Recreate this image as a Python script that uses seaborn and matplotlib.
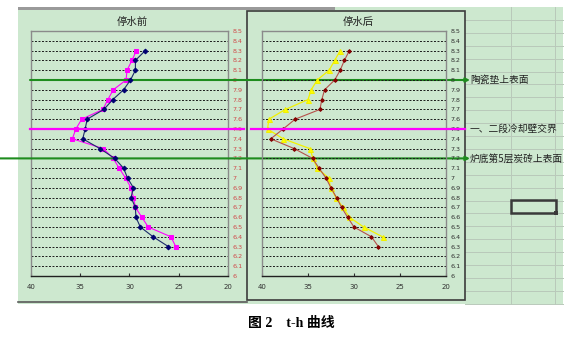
import matplotlib
matplotlib.use("Agg")
import matplotlib.pyplot as plt
import pandas as pd
import seaborn as sns
from matplotlib.patches import Rectangle
from matplotlib.lines import Line2D
from matplotlib import transforms

# ---- data -------------------------------------------------------------
heights = [8.3, 8.2, 8.1, 8.0, 7.9, 7.8, 7.7, 7.6, 7.5, 7.4, 7.3,
           7.2, 7.1, 7.0, 6.9, 6.8, 6.7, 6.6, 6.5, 6.4, 6.3]

# 停水前 (before water stop)
before_navy = [28.4, 29.4, 29.4, 29.9, 30.6, 31.7, 32.6, 34.3, 34.5, 34.75, 33.0,
               31.5, 30.6, 30.2, 29.6, 29.85, 29.4, 29.35, 28.9, 27.6, 26.05]
before_pink = [29.3, 29.75, 30.25, 30.35, 31.65, 32.2, 32.7, 34.85, 35.45, 35.8, 32.65,
               31.65, 31.05, 30.4, 29.85, 29.6, 29.4, 28.75, 28.1, 25.8, 25.3]

# 停水后 (after water stop)
after_red = [30.5, 31.05, 31.5, 32.1, 33.2, 33.5, 33.7, 36.4, 37.7, 39.05, 36.5,
             34.5, 33.8, 33.05, 32.5, 31.9, 31.35, 30.7, 30.0, 28.1, 27.35]
after_yellow = [31.5, 32.1, 32.7, 34.0, 34.65, 35.0, 37.45, 39.25, 39.4, 37.7, 34.8,
                34.45, 34.0, 32.75, 32.55, 31.95, 31.2, 30.5, 28.95, 26.9, None]

titles = ["停水前", "停水后"]
x_ticks = [40, 35, 30, 25, 20]
y_ticks = [6.0, 6.1, 6.2, 6.3, 6.4, 6.5, 6.6, 6.7, 6.8, 6.9, 7.0, 7.1, 7.2,
           7.3, 7.4, 7.5, 7.6, 7.7, 7.8, 7.9, 8.0, 8.1, 8.2, 8.3, 8.4, 8.5]
y_tick_labels = ["6", "6.1", "6.2", "6.3", "6.4", "6.5", "6.6", "6.7", "6.8", "6.9",
                 "7", "7.1", "7.2", "7.3", "7.4", "7.5", "7.6", "7.7", "7.8", "7.9",
                 "8", "8.1", "8.2", "8.3", "8.4", "8.5"]

levels = [8.0, 7.5, 7.2]
level_labels = ["陶瓷垫上表面", "一、二段冷却壁交界", "炉底第5层炭砖上表面"]
caption = "图 2    t-h 曲线"

# ---- figure -----------------------------------------------------------
W, H = 578, 338
fig = plt.figure(figsize=(W / 100, H / 100), dpi=100)
fig.patch.set_facecolor("white")
CJK = ["Noto Sans CJK SC", "DejaVu Sans"]
SHEET = "#cde8cf"


def fx(x):
    return x / W


def fy(y):
    return 1 - y / H


def rect(x0, y0, x1, y1, **kw):
    r = Rectangle((fx(x0), fy(y1)), (x1 - x0) / W, (y1 - y0) / H,
                  transform=fig.transFigure, **kw)
    fig.add_artist(r)
    return r


def hline_px(x0, x1, y, **kw):
    fig.add_artist(Line2D([fx(x0), fx(x1)], [fy(y), fy(y)],
                          transform=fig.transFigure, **kw))


def vline_px(x, y0, y1, **kw):
    fig.add_artist(Line2D([fx(x), fx(x)], [fy(y0), fy(y1)],
                          transform=fig.transFigure, **kw))


# worksheet background
rect(18, 7, 563, 304, facecolor=SHEET, edgecolor="none", zorder=0)
rect(18, 7, 335, 9.5, facecolor="#9a9a9a", edgecolor="none", zorder=0.5)

# worksheet cell grid on the right
y = 7 + 12.9
while y < 304:
    hline_px(465, 563, y, color="#b9c9ba", lw=0.7, zorder=0.4)
    y += 12.9
for xv in (511, 555):
    vline_px(xv, 7, 304, color="#b9c9ba", lw=0.7, zorder=0.4)

# chart frames
rect(247, 11, 465, 300, facecolor="none", edgecolor="#3c3c3c", lw=1.2, zorder=1)
hline_px(18, 247, 302, color="#5a5a5a", lw=1.2, zorder=1)

# selected cell
rect(511, 200, 556, 213, facecolor="none", edgecolor="#3a3a3a", lw=1.8, zorder=1)
rect(554, 211, 558, 215, facecolor="#3a3a3a", edgecolor="none", zorder=1)


def make_axes(x0, y0, x1, y1):
    ax = fig.add_axes([fx(x0), fy(y1), (x1 - x0) / W, (y1 - y0) / H])
    ax.set_facecolor("none")
    ax.set_zorder(2)
    return ax


ax_l = make_axes(31, 31, 228, 276)
ax_r = make_axes(262, 31, 446, 276)


def style_axes(ax, label_color):
    ax.set_xlim(40, 20)
    ax.set_ylim(6, 8.5)
    ax.set_xticks(x_ticks)
    ax.set_xticklabels([str(t) for t in x_ticks])
    ax.set_yticks(y_ticks)
    ax.set_yticklabels(y_tick_labels)
    ax.yaxis.tick_right()
    ax.tick_params(axis="y", length=0, pad=3.5, labelsize=4.6,
                   labelcolor=label_color)
    ax.tick_params(axis="x", direction="in", length=2, width=0.8, pad=6,
                   labelsize=5, labelcolor="#303030", color="#303030")
    ax.hlines(y_ticks[1:-1], 40, 20, colors="#1a1a1a", linestyles=(0, (2, 1.6)),
              lw=0.7, zorder=1)
    for side in ("left", "top", "right"):
        ax.spines[side].set_color("#8a8a8a")
        ax.spines[side].set_linewidth(1.0)
    ax.spines["bottom"].set_color("#202020")
    ax.spines["bottom"].set_linewidth(1.0)
    ax.set_xlabel("")
    ax.set_ylabel("")


df_before = pd.DataFrame({"height": heights, "navy": before_navy, "pink": before_pink})
df_after = pd.DataFrame({"height": heights, "red": after_red,
                         "yellow": pd.array(after_yellow, dtype="Float64").astype(float)})

sns.lineplot(data=df_before, x="pink", y="height", sort=False, estimator=None,
             ax=ax_l, color="#ff00ff", lw=0.8, marker="s", markersize=3.2,
             markeredgecolor="#ff00ff", zorder=3)
sns.lineplot(data=df_before, x="navy", y="height", sort=False, estimator=None,
             ax=ax_l, color="#1a2a6a", lw=0.8, marker="D", markersize=2.4,
             markeredgecolor="#000070", markerfacecolor="#000070", zorder=4)

sns.lineplot(data=df_after.dropna(), x="yellow", y="height", sort=False, estimator=None,
             ax=ax_r, color="#f2f200", lw=0.9, marker="^", markersize=3.6,
             markeredgecolor="#f0f000", markerfacecolor="#ffff00", zorder=3)
sns.lineplot(data=df_after, x="red", y="height", sort=False, estimator=None,
             ax=ax_r, color="#b5504a", lw=0.8, marker="D", markersize=1.9,
             markeredgecolor="#800000", markerfacecolor="#900000", zorder=4)

style_axes(ax_l, "#d04848")
style_axes(ax_r, "#303030")

# chart titles
fig.text(fx(132), fy(22), titles[0], ha="center", va="center", fontsize=7.5,
         color="#222222", family=CJK)
fig.text(fx(358), fy(22), titles[1], ha="center", va="center", fontsize=7.5,
         color="#222222", family=CJK)

# reference levels spanning both charts
blend = transforms.blended_transform_factory(fig.transFigure, ax_l.transData)
GREEN = "#1e8c1e"
MAG = "#ff00ff"

ax_l.annotate("", xy=(fx(470), levels[0]), xycoords=blend,
              xytext=(fx(30), levels[0]), textcoords=blend,
              arrowprops=dict(arrowstyle="-|>", color=GREEN, lw=1.5,
                              mutation_scale=6, shrinkA=0, shrinkB=0),
              annotation_clip=False)
ax_l.annotate("", xy=(fx(470), levels[2]), xycoords=blend,
              xytext=(fx(0), levels[2]), textcoords=blend,
              arrowprops=dict(arrowstyle="-|>", color=GREEN, lw=1.5,
                              mutation_scale=6, shrinkA=0, shrinkB=0),
              annotation_clip=False)
for xa, xb in ((30, 244), (251, 465)):
    fig.add_artist(Line2D([fx(xa), fx(xb)], [levels[1], levels[1]],
                          transform=blend, color=MAG, lw=1.6, zorder=5))

for lv, txt in zip(levels, level_labels):
    fig.text(fx(470), lv, txt, transform=blend, ha="left", va="center",
             fontsize=7, color="#202020", family=CJK)

# caption
fig.text(fx(291), fy(324), caption, ha="center", va="center", fontsize=10,
         fontweight="bold", color="black",
         family=["Liberation Serif", "Noto Sans CJK SC"])

fig.savefig("out.png", dpi=100)
